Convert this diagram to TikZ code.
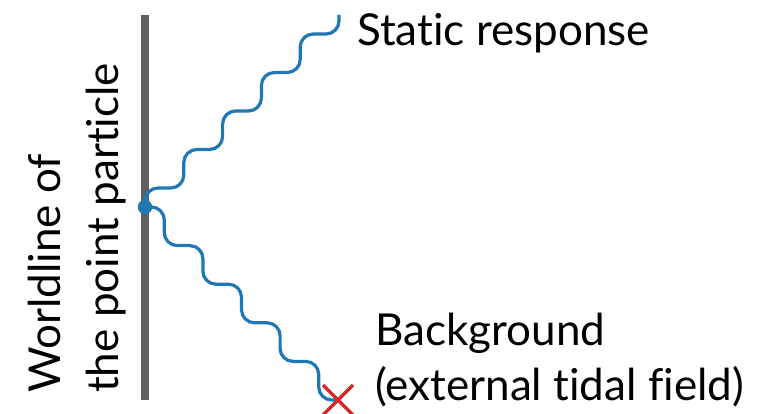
\documentclass[tikz,border=0pt]{standalone}
\usepackage{fontspec}
\setmainfont{Lato}[Ligatures={NoCommon}]
\definecolor{wlgray}{HTML}{606060}
\definecolor{waveblue}{HTML}{1F77B4}
\definecolor{crossred}{HTML}{D62728}
\tikzset{
  worldline/.style={line width=8pt, draw=wlgray},
  wave/.style={line width=3.2pt, draw=waveblue, rounded corners=13pt},
  label/.style={font=\fontsize{44}{55}\selectfont, inner sep=0pt, text=black},
  vertex/.style={circle, fill=waveblue, minimum size=14.5pt, inner sep=0pt},
}
\begin{document}
\begin{tikzpicture}[x=1pt, y=-1pt]
  \useasboundingbox (0,0) rectangle (777,414);
  % worldline of the particle
  \coordinate (wtop) at (145,15);
  \coordinate (wbot) at (145,400);
  \draw[worldline] (wtop) -- (wbot);
  % interaction vertex and the two wavy lines
  \coordinate (v) at (145,207);
  \coordinate (resp) at (339,15);
  \coordinate (bg) at (338,400);
  \draw[wave] (v) -- ++(0,-19)
    -- ++(38.8,0) -- ++(0,-38.5) -- ++(38.8,0) -- ++(0,-38.5)
    -- ++(38.8,0) -- ++(0,-38.5) -- ++(38.8,0) -- ++(0,-38.5)
    -| (resp);
  \draw[wave] (v) -- ++(19.3,0)
    -- ++(0,38.6) -- ++(38.6,0) -- ++(0,38.6) -- ++(38.6,0)
    -- ++(0,38.6) -- ++(38.6,0) -- ++(0,38.6) -- ++(38.6,0)
    |- (bg);
  \node[vertex] (dot) at (v) {};
  % source of the external field
  \draw[crossred, line width=3.5pt] (bg) ++(-15,-15) -- ++(30,30)
        (bg) ++(15,-15) -- ++(-30,30);
  % labels
  \node[label, anchor=base west] (tresp) at (357,46) {Static response};
  \node[label, anchor=base west, align=left] (tbg) at (375,400)
        {Background\\(external tidal field)};
  \node[label, anchor=base west, align=left, rotate=90,
        font=\fontsize{44}{58}\selectfont] (twl) at (118,393)
        {Worldline of\\the point particle};
\end{tikzpicture}
\end{document}
